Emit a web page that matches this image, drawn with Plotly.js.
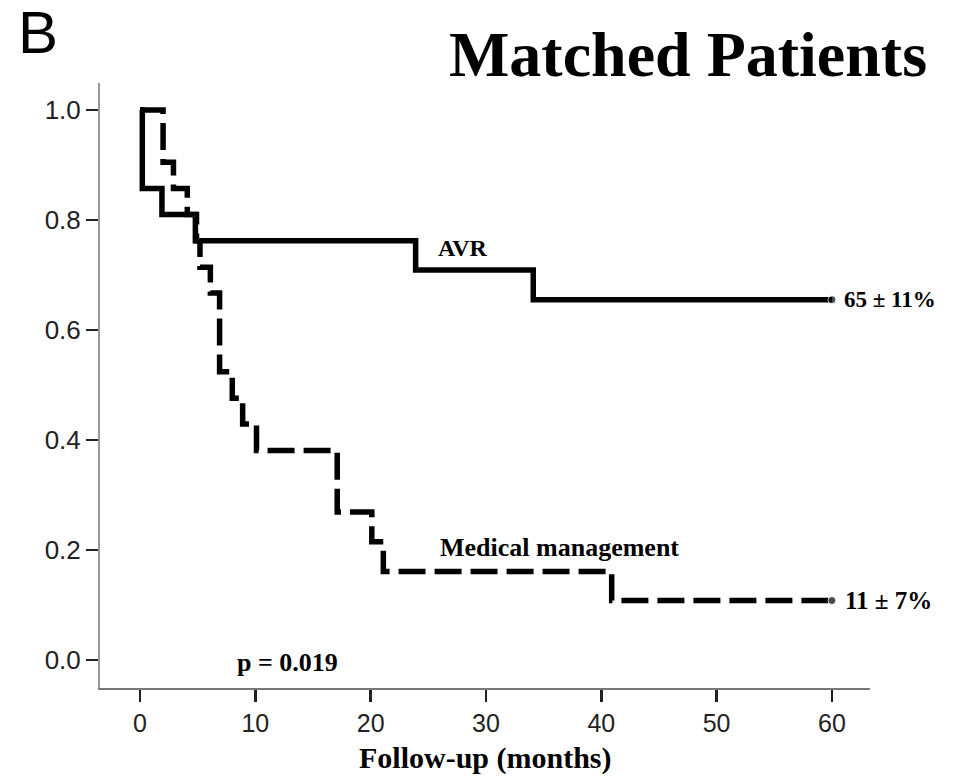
<!DOCTYPE html>
<html>
<head>
<meta charset="utf-8">
<script src="https://cdn.plot.ly/plotly-3.0.1.min.js"></script>
<style>html,body{margin:0;padding:0;background:#fff;}#chart{width:965px;height:781px;}</style>
</head>
<body>
<div id="chart"></div>
<script>
// Kaplan-Meier survival, AVR (solid)
var avrTime = [0, 0.2, 1.9, 4.8, 23.9, 34.1, 60];
var avrSurv = [1.0, 0.857, 0.810, 0.762, 0.709, 0.655, 0.655];
// Medical management (dashed)
var medTime = [0, 2.0, 2.9, 4.1, 4.9, 5.2, 6.1, 6.9, 8.0, 8.9, 10.1, 17.1, 20.1, 21.1, 40.9, 60];
var medSurv = [1.0, 0.905, 0.857, 0.810, 0.762, 0.714, 0.667, 0.524, 0.476, 0.429, 0.381, 0.269, 0.215, 0.161, 0.108, 0.108];
var xTicks = [0, 10, 20, 30, 40, 50, 60];
var yTicks = [0.0, 0.2, 0.4, 0.6, 0.8, 1.0];
var yTickText = ["0.0", "0.2", "0.4", "0.6", "0.8", "1.0"];

function endMarkers(n) { var s = []; for (var i = 0; i < n; i++) s.push(i === n - 1 ? 8 : 0); return s; }

var traces = [
  {x: medTime, y: medSurv, mode: 'lines+markers', line: {shape: 'hv', color: '#000', width: 5.5, dash: '27px,9px'},
   marker: {size: endMarkers(medTime.length), color: '#000'}, hoverinfo: 'skip'},
  {x: avrTime, y: avrSurv, mode: 'lines+markers', line: {shape: 'hv', color: '#000', width: 5.5},
   marker: {size: endMarkers(avrTime.length), color: '#000'}, hoverinfo: 'skip'}
];

var serif = 'Liberation Serif, Times New Roman, serif';
var sans = 'Liberation Sans, Arial, sans-serif';

var layout = {
  width: 965, height: 781,
  margin: {l: 100, r: 95, t: 83, b: 93},
  paper_bgcolor: '#fff', plot_bgcolor: '#fff',
  showlegend: false,
  title: {text: '<b>Matched Patients</b>', x: (688 - 100) / 770, xanchor: 'center', xref: 'paper',
          y: 1 - 54 / 781, yanchor: 'middle', font: {family: serif, size: 64, color: '#000'}},
  xaxis: {range: [-3.47, 63.3], tickvals: xTicks, ticktext: xTicks.map(String), ticks: 'outside', ticklen: 12, tickwidth: 2.5,
          tickcolor: '#222', showline: true, linecolor: '#777', linewidth: 2, showgrid: false, zeroline: false,
          tickfont: {family: sans, size: 25, color: '#222'}, fixedrange: true},
  yaxis: {range: [-0.051, 1.049], tickvals: yTicks, ticktext: yTickText, ticks: 'outside', ticklen: 12, tickwidth: 2.5,
          tickcolor: '#222', showline: true, linecolor: '#999', linewidth: 2, showgrid: false, zeroline: false,
          tickfont: {family: sans, size: 26, color: '#222'}, fixedrange: true},
  annotations: [
    {text: 'B', xref: 'paper', yref: 'paper', x: -84 / 770, y: 1 + 51 / 605, xanchor: 'left', yanchor: 'middle',
     showarrow: false, font: {family: sans, size: 60, color: '#000'}},
    {text: '<b>AVR</b>', x: 28.0, y: 0.749, xanchor: 'center', yanchor: 'middle', showarrow: false,
     font: {family: serif, size: 24, color: '#000'}},
    {text: '<b>65 ± 11%</b>', x: 60.9, y: 0.655, xanchor: 'left', yanchor: 'middle', showarrow: false,
     font: {family: serif, size: 23, color: '#000'}},
    {text: '<b>Medical management</b>', x: 25.85, y: 0.204, xanchor: 'left', yanchor: 'middle', showarrow: false,
     font: {family: serif, size: 26, color: '#000'}},
    {text: '<b>11 ± 7%</b>', x: 61.0, y: 0.109, xanchor: 'left', yanchor: 'middle', showarrow: false,
     font: {family: serif, size: 25, color: '#000'}},
    {text: '<b>p = 0.019</b>', x: 8.24, y: -0.004, xanchor: 'left', yanchor: 'middle', showarrow: false,
     font: {family: serif, size: 26, color: '#000'}},
    {text: '<b>Follow-up (months)</b>', xref: 'paper', yref: 'paper', x: 0.501, y: -70 / 605, xanchor: 'center', yanchor: 'middle',
     showarrow: false, font: {family: serif, size: 30, color: '#000'}}
  ]
};

Plotly.newPlot('chart', traces, layout, {displayModeBar: false, staticPlot: true});
</script>
</body>
</html>
